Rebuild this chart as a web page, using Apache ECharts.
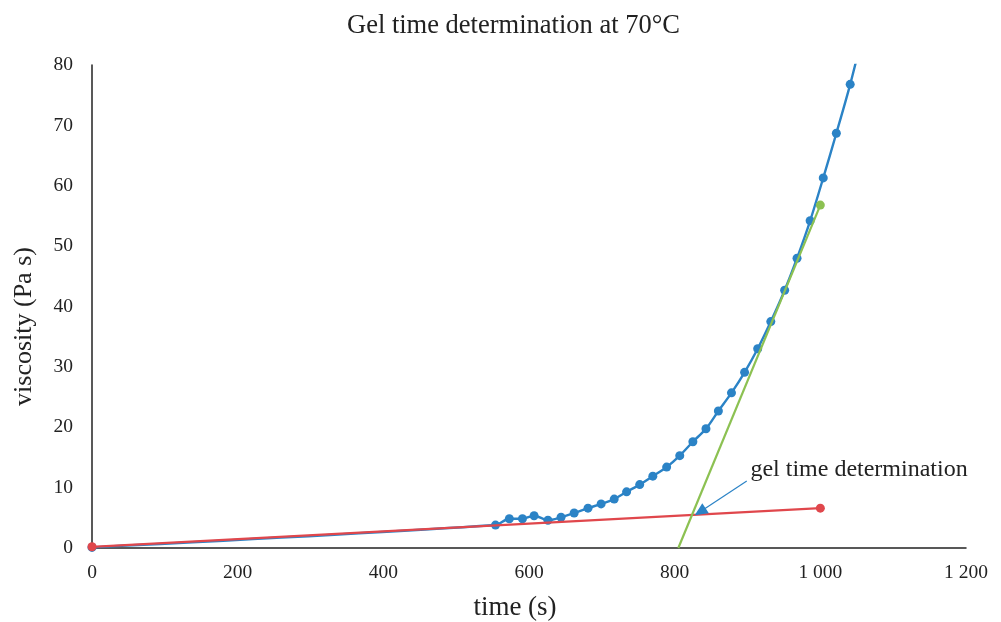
<!DOCTYPE html>
<html>
<head>
<meta charset="utf-8">
<script src="https://cdn.jsdelivr.net/npm/echarts@6/dist/echarts.min.js"></script>
<style>html,body{margin:0;padding:0;background:#fff}#c{width:1001px;height:622px}</style>
</head>
<body>
<div id="c"></div>
<script>
// Measured viscosity (time s, viscosity Pa s); last point lies above the axis max
const viscTime = [0, 554, 573, 591, 607, 626, 644, 662, 681, 699, 717, 734, 752, 770, 789, 807, 825, 843, 860, 878, 896, 914, 932, 951, 968, 986, 1004, 1022, 1041, 1059];
const viscValue = [0.1, 3.8, 4.85, 4.85, 5.35, 4.6, 5.1, 5.8, 6.6, 7.3, 8.1, 9.3, 10.5, 11.9, 13.4, 15.3, 17.6, 19.75, 22.7, 25.7, 29.1, 33.0, 37.5, 42.7, 48.0, 54.2, 61.3, 68.7, 76.8, 85.5];
// Baseline tangent (red)
const baseTime = [0, 1000];
const baseValue = [0.2, 6.6];
// Steep tangent (green)
const tanTime = [805, 1000];
const tanValue = [0, 56.8];
// Annotation arrow (start, end)
const arrowTime = [899, 835];
const arrowValue = [11.1, 6.0];
const annotText = 'gel time determination';

const pair = (xs, ys) => xs.map((x, i) => [x, ys[i]]);
const serif = '"Liberation Serif", "DejaVu Serif", serif';

const chart = echarts.init(document.getElementById('c'));
chart.setOption({
  animation: false,
  title: {
    text: 'Gel time determination at 70°C',
    left: 342, top: 8,
    textStyle: { fontFamily: serif, fontSize: 26.5, fontWeight: 'normal', color: '#222' }
  },
  grid: { left: 92, right: 35, top: 65, bottom: 74, containLabel: false, outerBoundsMode: 'none' },
  xAxis: {
    type: 'value', min: 0, max: 1200, interval: 200,
    name: 'time (s)', nameLocation: 'middle', nameGap: 46,
    nameTextStyle: { fontFamily: serif, fontSize: 27, color: '#222', padding: [0, 28, 0, 0] },
    axisLine: { onZero: false, lineStyle: { color: '#222', width: 1.5 } },
    axisTick: { show: false },
    splitLine: { show: false },
    axisLabel: {
      fontFamily: serif, fontSize: 19.5, color: '#222', margin: 15,
      formatter: v => String(v).replace(/\B(?=(\d{3})+(?!\d))/g, ' ')
    }
  },
  yAxis: {
    type: 'value', min: 0, max: 80, interval: 10,
    name: 'viscosity (Pa s)', nameLocation: 'middle', nameGap: 55,
    nameTextStyle: { fontFamily: serif, fontSize: 26, color: '#222', padding: [0, 40, 0, 0] },
    axisLine: { show: true, lineStyle: { color: '#222', width: 1.5 } },
    axisTick: { show: false },
    splitLine: { show: false },
    axisLabel: { fontFamily: serif, fontSize: 19.5, color: '#222', margin: 19 }
  },
  series: [
    {
      type: 'line', data: pair(viscTime, viscValue), smooth: 0.3, clip: true,
      symbol: 'circle', symbolSize: 9,
      itemStyle: { color: '#2B83C6' },
      lineStyle: { color: '#2B83C6', width: 2.4 },
      z: 2
    },
    {
      type: 'line', data: pair(baseTime, baseValue),
      symbol: 'circle', symbolSize: 9,
      itemStyle: { color: '#E0474C' },
      lineStyle: { color: '#E0474C', width: 2.2 },
      z: 3
    },
    {
      type: 'line',
      data: pair(tanTime, tanValue).map((p, i) => i === 0 ? { value: p, symbol: 'none' } : { value: p }),
      symbol: 'circle', symbolSize: 9,
      itemStyle: { color: '#8CC152' },
      lineStyle: { color: '#8CC152', width: 2.2 },
      z: 4,
      markLine: {
        silent: true, symbol: ['none', 'triangle'], symbolSize: [12, 13],
        lineStyle: { color: '#2B83C6', width: 1.2, type: 'solid' },
        label: { show: false },
        data: [[
          { coord: [arrowTime[0], arrowValue[0]] },
          { coord: [arrowTime[1], arrowValue[1]] }
        ]]
      },
      markPoint: {
        silent: true, symbol: 'circle', symbolSize: 0,
        label: {
          show: true, position: 'right', distance: 0,
          formatter: annotText,
          fontFamily: serif, fontSize: 24, color: '#222'
        },
        data: [{ coord: [904, 12.9] }]
      }
    }
  ]
});
</script>
</body>
</html>
